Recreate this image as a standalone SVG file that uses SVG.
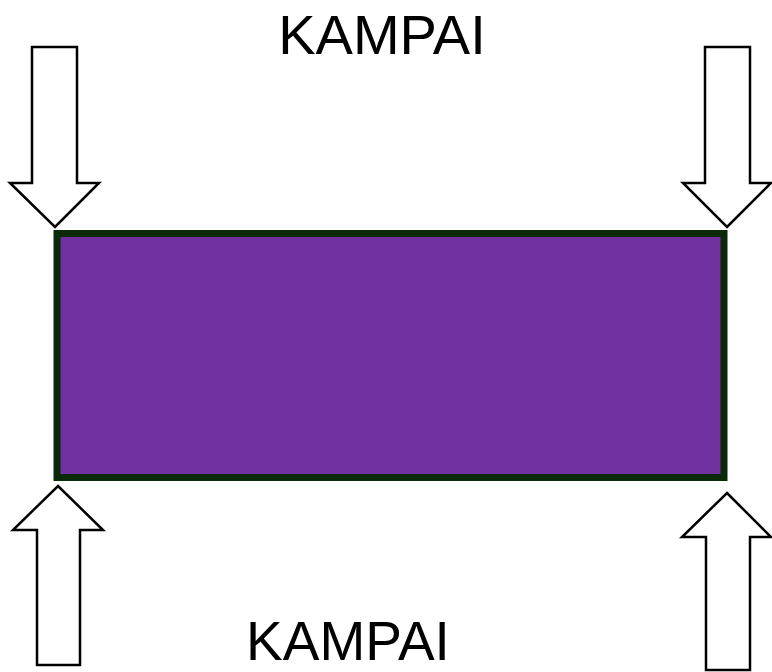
<svg xmlns="http://www.w3.org/2000/svg" width="772" height="672" viewBox="0 0 772 672">
<style>
.arrow{fill:#ffffff;stroke:#000000;stroke-width:2.5;stroke-linejoin:miter}
.label{font-family:"Comic Sans MS","Liberation Sans",sans-serif;font-size:56px;fill:#000000}
</style>
<rect width="772" height="672" fill="#ffffff"/>
<g id="box">
<rect x="57" y="233.5" width="667" height="244" fill="#7030a0" stroke="#0a2a0a" stroke-width="7"/>
</g>
<g id="connectors">
<polygon id="arrow-tl" class="arrow" points="32,47 77,47 77,183 99,183 55,227 10,183 32,183"/>
<polygon id="arrow-tr" class="arrow" points="705,47 750,47 750,183 771,183 727,227 683,183 705,183"/>
<polygon id="arrow-bl" class="arrow" points="58,486 103,530 80,530 80,665 37,665 37,530 13,530"/>
<polygon id="arrow-br" class="arrow" points="727,493 771,537 750,537 750,670 706,670 706,537 682,537"/>
</g>
<g id="label-top"><text class="label" x="382" y="54" text-anchor="middle">KAMPAI</text></g>
<g id="label-bottom"><text class="label" x="348" y="660" text-anchor="middle" style="font-size:55px">KAMPAI</text></g>
</svg>
